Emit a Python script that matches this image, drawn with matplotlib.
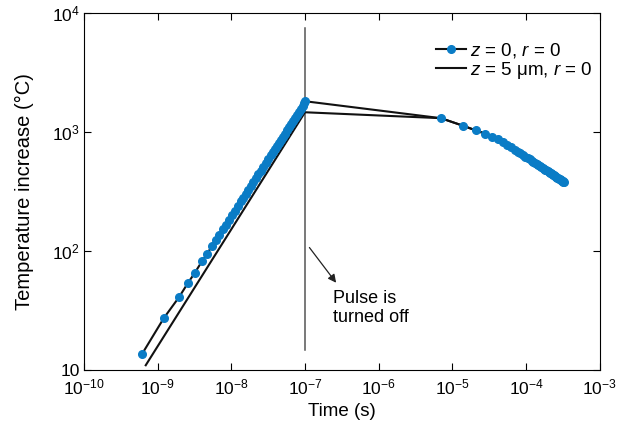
import matplotlib
matplotlib.use("Agg")
import matplotlib.pyplot as plt

plt.rcParams['font.family'] = ['Liberation Sans', 'DejaVu Sans']
plt.rcParams['mathtext.fontset'] = 'custom'
plt.rcParams['mathtext.rm'] = 'Liberation Sans'
plt.rcParams['mathtext.it'] = 'Liberation Sans:italic'

# z = 0, r = 0 : heating phase (pulse on)
t_rise_z0 = [6.12e-10, 1.22e-9, 1.95e-9, 2.58e-9, 3.21e-9, 3.99e-9, 4.67e-9,
             5.46e-9, 6.18e-9, 6.89e-9, 7.69e-9, 8.45e-9, 9.28e-9, 1.019e-8,
             1.119e-8, 1.229e-8, 1.350e-8, 1.460e-8, 1.578e-8, 1.706e-8,
             1.844e-8, 1.995e-8, 2.157e-8, 2.332e-8, 2.521e-8, 2.726e-8,
             2.948e-8, 3.187e-8, 3.446e-8, 3.668e-8, 3.904e-8, 4.155e-8,
             4.423e-8, 4.710e-8, 5.012e-8, 5.336e-8, 5.680e-8, 6.046e-8,
             6.436e-8, 6.851e-8, 7.295e-8, 7.764e-8, 8.265e-8, 8.800e-8,
             9.365e-8, 9.81e-8, 1.0e-7]
T_rise_z0 = [13.6, 27.5, 41, 54, 66, 82, 95,
             110, 124, 138, 153, 167, 183, 200,
             219, 239, 262, 282, 304, 327,
             353, 380, 410, 441, 475, 512,
             552, 595, 641, 681, 722, 767,
             814, 864, 917, 974, 1033, 1097,
             1165, 1236, 1313, 1393, 1479, 1570,
             1667, 1743, 1820]

# cooling phase (pulse off), both depths end up on the same curve
t_decay = [7e-6, 1.4e-5, 2.1e-5, 2.8e-5, 3.5e-5, 4.2e-5, 4.9e-5, 5.6e-5,
           6.3e-5, 7.0e-5, 7.7e-5, 8.4e-5, 9.1e-5, 9.8e-5, 1.05e-4, 1.12e-4,
           1.19e-4, 1.26e-4, 1.33e-4, 1.40e-4, 1.47e-4, 1.54e-4, 1.61e-4,
           1.68e-4, 1.75e-4, 1.82e-4, 1.89e-4, 1.96e-4, 2.03e-4, 2.10e-4,
           2.17e-4, 2.24e-4, 2.31e-4, 2.38e-4, 2.45e-4, 2.52e-4, 2.59e-4,
           2.66e-4, 2.73e-4, 2.80e-4, 2.87e-4, 2.94e-4, 3.01e-4, 3.08e-4,
           3.15e-4, 3.22e-4, 3.29e-4]
T_decay = [1311, 1132, 1033, 970, 918, 877, 826, 782,
           745, 714, 687, 664, 642, 624, 605, 590,
           575, 561, 550, 537, 528, 518, 509,
           499, 492, 483, 477, 469, 463, 456,
           451, 445, 439, 434, 428, 424, 419,
           414, 410, 406, 401, 397, 394, 391,
           387, 383, 380]

# z = 5 um, r = 0
t_rise_z5 = [6.9e-10, 1.0e-7]
T_rise_z5 = [11, 1470]

blue = '#0a7cc6'

fig = plt.figure(figsize=(6.17, 4.25), dpi=100)
ax = fig.add_axes([0.136, 0.129, 0.836, 0.840])

ax.plot(t_rise_z0 + t_decay, T_rise_z0 + T_decay, '-', color='#111111', lw=1.5,
        marker='o', ms=5.5, mfc=blue, mec=blue, label=r'$z$ = 0, $r$ = 0', zorder=3)
ax.plot(t_rise_z5 + t_decay, T_rise_z5 + T_decay, '-', color='#111111', lw=1.5,
        label=r'$z$ = 5 μm, $r$ = 0', zorder=2)

# pulse off marker
ax.plot([1e-7, 1e-7], [14.7, 7480], color='#555555', lw=1.1, zorder=1)
ax.annotate('', xy=(2.79e-7, 52), xytext=(1.09e-7, 112),
            arrowprops=dict(arrowstyle='-|>', color='#222222', lw=0.9,
                            mutation_scale=12))
ax.text(2.39e-7, 47, 'Pulse is\nturned off', fontsize=13, ha='left', va='top',
        linespacing=1.15)

ax.set_xscale('log')
ax.set_yscale('log')
ax.set_xlim(1e-10, 1e-3)
ax.set_ylim(10, 1e4)
ax.set_xticks([1e-10, 1e-9, 1e-8, 1e-7, 1e-6, 1e-5, 1e-4, 1e-3])
ax.set_xticklabels([r'$10^{%d}$' % e for e in range(-10, -2)])
ax.set_yticks([10, 100, 1000, 10000])
ax.set_yticklabels(['10', r'$10^2$', r'$10^3$', r'$10^4$'])
ax.minorticks_off()
ax.tick_params(direction='in', top=True, right=True, length=5, labelsize=12.5,
               pad=3)
ax.tick_params(axis='x', pad=5.5)
ax.set_xlabel('Time (s)', fontsize=13.5, labelpad=4)
ax.set_ylabel('Temperature increase (°C)', fontsize=14.5, labelpad=13)

ax.legend(loc='upper right', frameon=False, fontsize=13.5, handlelength=1.6,
          handletextpad=0.2, labelspacing=0.0, borderaxespad=0.0,
          bbox_to_anchor=(1.0, 0.944))

fig.savefig('out.png', dpi=100)
